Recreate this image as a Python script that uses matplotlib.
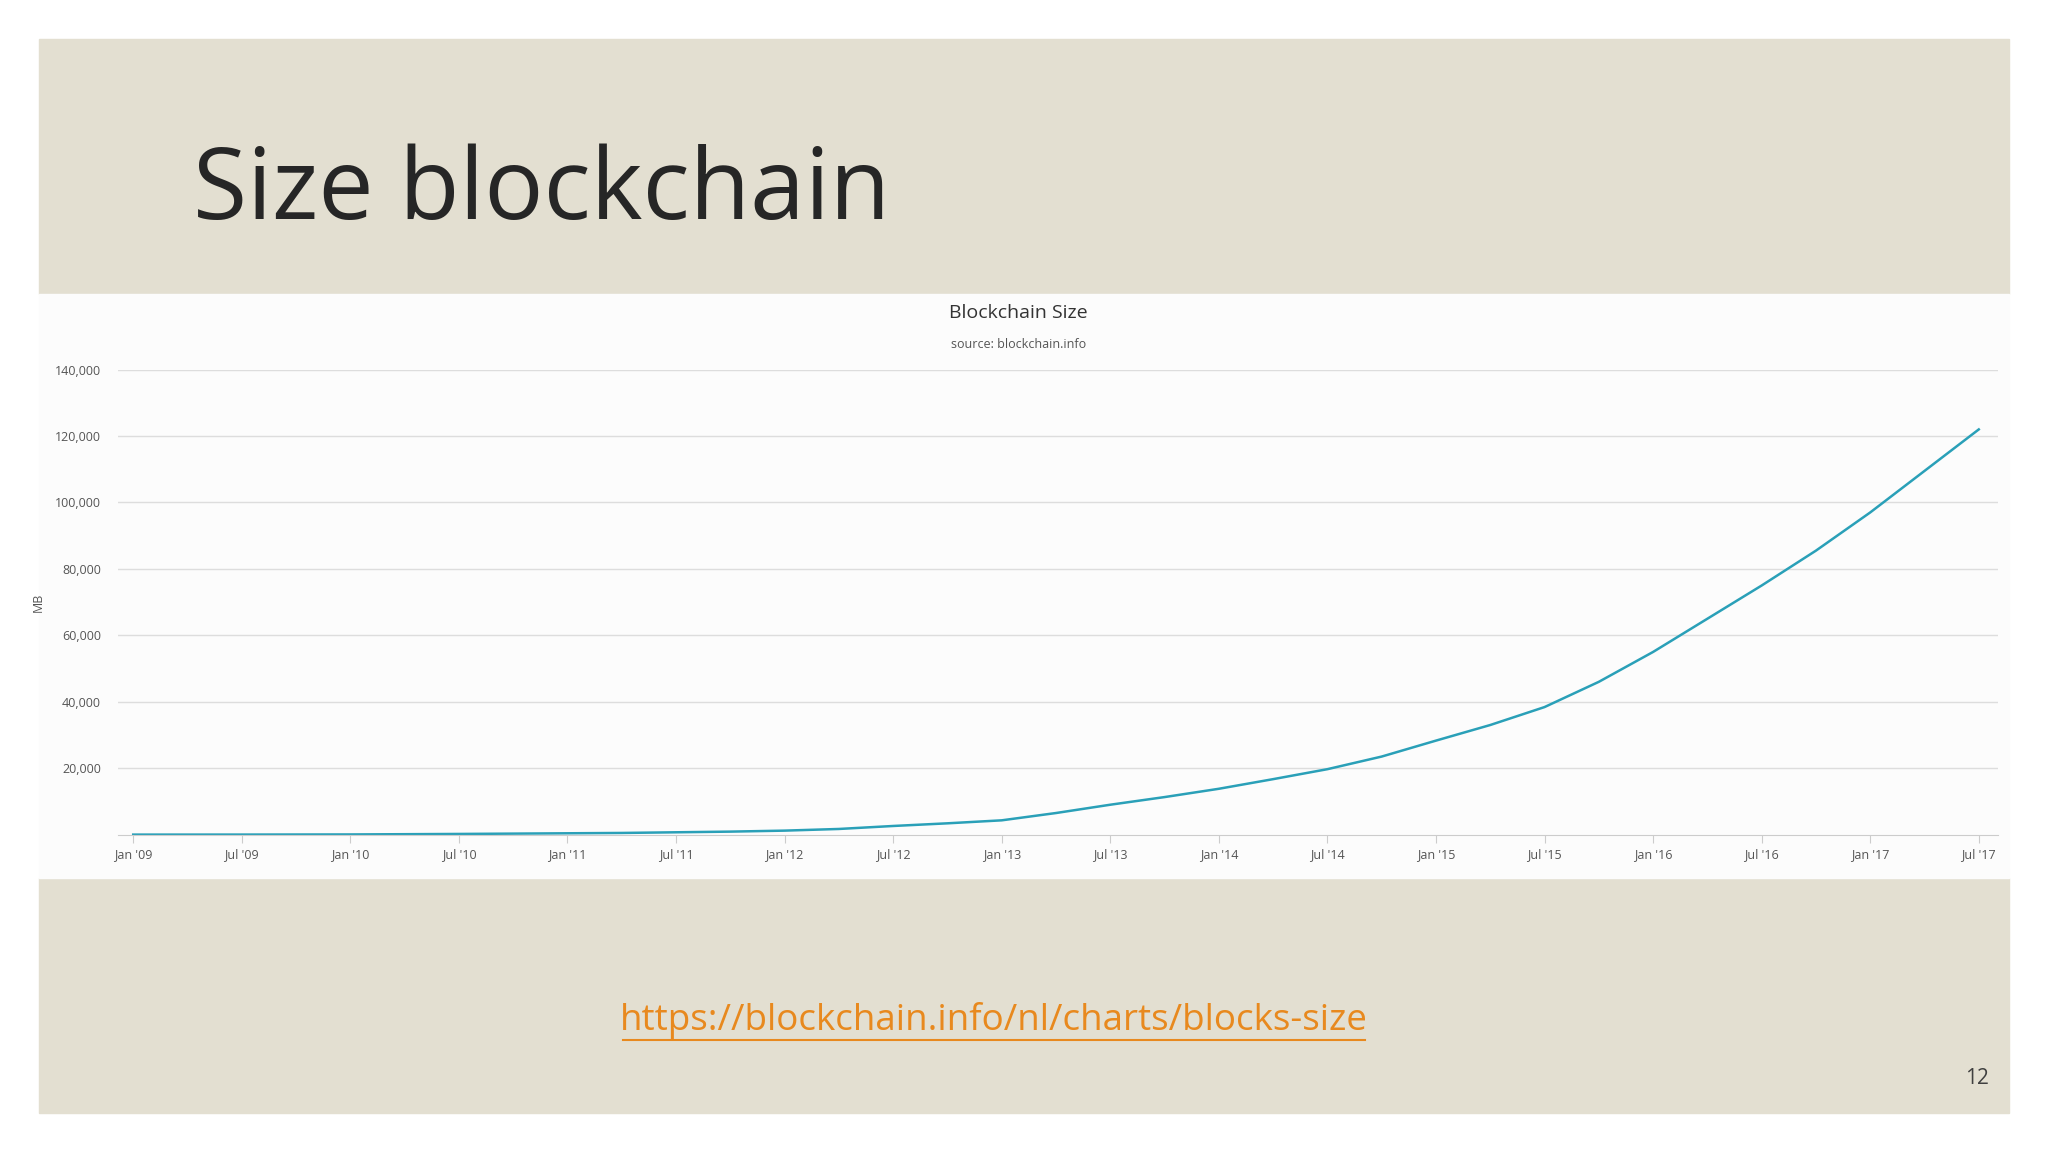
import matplotlib
matplotlib.use("Agg")
import matplotlib.pyplot as plt
from matplotlib.patches import Rectangle

plt.rcParams['font.family'] = ['Open Sans', 'DejaVu Sans']

tick_labels = ["Jan '09","Jul '09","Jan '10","Jul '10","Jan '11","Jul '11","Jan '12","Jul '12",
               "Jan '13","Jul '13","Jan '14","Jul '14","Jan '15","Jul '15","Jan '16","Jul '16","Jan '17","Jul '17"]
# time in half-years since Jan '09
t = [0, 1, 2, 3, 4, 4.5, 5, 5.5, 6, 6.5, 7, 7.5, 8, 8.5, 9, 9.5, 10, 10.5, 11, 11.5,
     12, 12.5, 13, 13.5, 14, 14.5, 15, 15.5, 16, 16.5, 17]
size_mb = [0, 10, 50, 200, 400, 500, 700, 900, 1200, 1700, 2600, 3400, 4300, 6500, 9000, 11300, 13800,
           16700, 19700, 23500, 28300, 33000, 38400, 46000, 55000, 65000, 75000, 85500, 97000, 109500, 122000]

W, H = 20.48, 11.52
fig = plt.figure(figsize=(W, H), dpi=100)
fig.patch.set_facecolor('white')
S = 1568.0; SH = 882.0
def fx(x): return x / S
def fy(y): return 1 - y / SH
beige = '#e3dfd1'
fig.add_artist(Rectangle((fx(30), fy(225)), fx(1508), 195/SH, transform=fig.transFigure, color=beige, zorder=0))
fig.add_artist(Rectangle((fx(30), fy(852)), fx(1508), 180/SH, transform=fig.transFigure, color=beige, zorder=0))
fig.add_artist(Rectangle((fx(30), fy(672)), fx(1508), 447/SH, transform=fig.transFigure, color='#fcfcfc', zorder=0))

fig.text(fx(148), fy(148), "Size blockchain", fontsize=71, color='#262626', va='center', ha='left')
fig.text(fx(761), fy(781), "https://blockchain.info/nl/charts/blocks-size", fontsize=26.5, color='#e8891e',
         ha='center', va='center')
fig.add_artist(plt.Line2D([fx(477), fx(1045)], [fy(796), fy(796)], transform=fig.transFigure, color='#e8891e', lw=1.5))
fig.text(fx(1514), fy(826), "12", fontsize=15, color='#404040', ha='center', va='center')
fig.text(fx(780), fy(240), "Blockchain Size", fontsize=14, color='#333333', ha='center', va='center')
fig.text(fx(780), fy(264), "source: blockchain.info", fontsize=9, color='#555555', ha='center', va='center')
fig.text(fx(29), fy(461), "MB", fontsize=9, color='#555555', ha='center', va='center', rotation=90)

ax = fig.add_axes([fx(90), fy(639), fx(1440), 356/SH])
ax.set_facecolor('none')
ax.plot(t, size_mb, color='#2aa0b8', lw=1.8)
ax.set_ylim(0, 140000)
px = (1515 - 102) / 17
ax.set_xlim(-12 / px, 17 + 15 / px)
ax.set_yticks(range(20000, 140001, 20000))
ax.set_yticklabels([f"{v:,}" for v in range(20000, 140001, 20000)], fontsize=9, color='#555555')
ax.set_xticks(range(18))
ax.set_xticklabels(tick_labels, fontsize=9, color='#555555')
ax.grid(axis='y', color='#dddddd', lw=1)
for s in ['top', 'right', 'left']:
    ax.spines[s].set_visible(False)
ax.spines['bottom'].set_color('#cccccc')
ax.tick_params(axis='y', length=0, pad=12)
ax.tick_params(axis='x', length=6, color='#cccccc')
fig.savefig("out.png", dpi=100, facecolor=fig.get_facecolor())
